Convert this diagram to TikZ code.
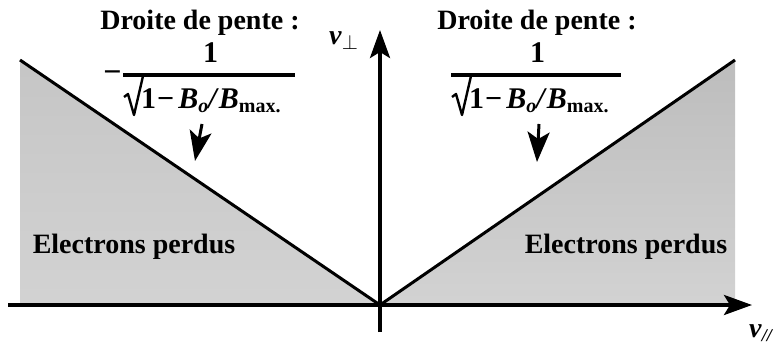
\documentclass[tikz,border=0pt]{standalone}
\usepackage{fontspec}
\setmainfont{Liberation Serif}
\usetikzlibrary{arrows.meta}
\begin{document}
\begin{tikzpicture}[x=1pt,y=-1pt,
  lbl/.style={font=\fontsize{28}{30}\selectfont\bfseries, inner sep=0pt, anchor=base},
  numtxt/.style={font=\fontsize{30}{32}\selectfont\bfseries, inner sep=0pt, anchor=base},
  dentxt/.style={font=\fontsize{30}{32}\selectfont\bfseries, inner sep=0pt, anchor=base west},
  mintxt/.style={font=\fontsize{32}{32}\selectfont\bfseries, inner sep=0pt, anchor=base},
  axislbl/.style={inner sep=0pt, anchor=base west},
  axis/.style={line width=3.5pt, -{Stealth[length=28pt,width=20pt,inset=6pt]}},
  slope/.style={line width=3pt},
  pointer/.style={line width=3pt, -{Stealth[length=30pt,width=22pt,inset=7pt]}},
  fracbar/.style={line width=4pt},
  radical/.style={line width=2.4pt, line join=round},
]
\useasboundingbox (0,0) rectangle (777,345);
% key points
\coordinate (O) at (380,305);
\coordinate (LT) at (20,60);
\coordinate (LB) at (20,305);
\coordinate (RT) at (735,60);
\coordinate (RB) at (735,305);
% shaded regions
\begin{scope}
  \clip (LT) -- (O) -- (LB) -- cycle;
  \shade[top color=gray!45, middle color=gray!62, bottom color=gray!35] (20,60) rectangle (380,305);
\end{scope}
\begin{scope}
  \clip (RT) -- (O) -- (RB) -- cycle;
  \shade[top color=gray!52, middle color=gray!45, bottom color=gray!35] (380,60) rectangle (735,305);
\end{scope}
% axes
\coordinate (xs) at (8,305);
\coordinate (xe) at (752,305);
\coordinate (ys) at (380,332);
\coordinate (ye) at (380,30);
\draw[axis] (xs) -- (xe);
\draw[axis] (ys) -- (ye);
\draw[slope] (LT) -- (O) -- (RT);
% axis labels
\node[axislbl] (vperp) at (329,45) {\fontsize{28}{28}\selectfont\textbf{\textit{v}}\raisebox{-5pt}{\fontsize{20}{20}\selectfont$\perp$}};
\node[axislbl] (vpar) at (749,337) {\fontsize{28}{28}\selectfont\textbf{\textit{v}}\raisebox{-4pt}{\fontsize{18}{18}\selectfont\textbf{\textit{//}}}};
% titles
\node[lbl] (t1) at (200,30) {Droite de pente :};
\node[lbl] (t2) at (537,30) {Droite de pente :};
% left fraction
\node[mintxt] (m1) at (112.5,83) {−};
\node[numtxt] (n1) at (210.5,63) {1};
\draw[fracbar] (123,75) -- (295,75);
\draw[radical] (124,97) -- (128,94) -- (134,115) -- (143,76);
\node[dentxt] (d1) at (141,109) {1\kern1pt−\kern4pt\textit{B}\raisebox{-3pt}{\fontsize{20}{20}\selectfont\textit{o}}\textit{/}\textit{B}\raisebox{-3pt}{\fontsize{20}{20}\selectfont max.}};
% right fraction
\node[numtxt] (n2) at (537.5,63) {1};
\draw[fracbar] (451,75) -- (621,75);
\draw[radical] (452,97) -- (456,94) -- (462,115) -- (471,76);
\node[dentxt] (d2) at (469,109) {1\kern1pt−\kern4pt\textit{B}\raisebox{-3pt}{\fontsize{20}{20}\selectfont\textit{o}}\textit{/}\textit{B}\raisebox{-3pt}{\fontsize{20}{20}\selectfont max.}};
% pointers
\coordinate (p1s) at (202,124);
\coordinate (p1e) at (195,161);
\coordinate (p2s) at (539,124);
\coordinate (p2e) at (537,162);
\draw[pointer] (p1s) -- (p1e);
\draw[pointer] (p2s) -- (p2e);
% region labels
\node[lbl] (e1) at (134,253) {Electrons perdus};
\node[lbl] (e2) at (626,253) {Electrons perdus};
\end{tikzpicture}
\end{document}
